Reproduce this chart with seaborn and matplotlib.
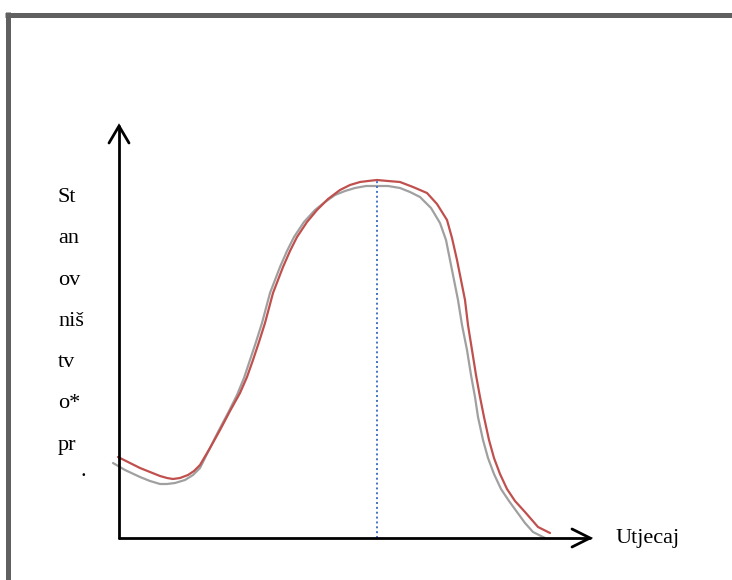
import numpy as np
import pandas as pd
import matplotlib.pyplot as plt
import seaborn as sns
from matplotlib.lines import Line2D

# curve values (x = distance from y axis, y = height above x axis, in px)
red_x = [-1, 11, 21, 31, 41, 48, 54, 61, 69, 75, 81, 91, 101, 111, 121, 128, 134, 140,
         146, 150, 154, 159, 164, 171, 178, 188, 198, 209, 221, 231, 241, 249, 258, 269,
         281, 294, 308, 318, 328, 333, 338, 342, 346, 349, 353, 357, 361, 365, 370, 375,
         381, 388, 396, 406, 419, 431]
red_y = [81, 75, 70, 66, 62, 60, 59, 60, 63, 67, 73, 90, 108, 127, 145, 161, 178, 196,
         215, 230, 245, 258, 271, 287, 301, 316, 328, 339, 348, 353, 356, 357, 358, 357,
         356, 351, 345, 334, 318, 300, 278, 258, 238, 213, 188, 163, 141, 121, 98, 80,
         64, 49, 37, 26, 11, 5]

gray_x = [-6, 6, 21, 31, 41, 48, 56, 66, 74, 81, 90, 99, 109, 118, 125, 131, 137, 143,
          147, 151, 156, 161, 168, 175, 185, 196, 206, 216, 226, 236, 247, 258, 269, 281,
          291, 301, 312, 321, 327, 331, 335, 339, 343, 348, 352, 356, 359, 364, 369, 375,
          382, 390, 398, 406, 414, 426]
gray_y = [75, 68, 61, 57, 54, 54, 55, 58, 63, 70, 88, 106, 125, 143, 160, 178, 196, 215,
          230, 245, 258, 271, 287, 301, 316, 328, 336, 343, 347, 350, 352, 352, 352, 350,
          346, 341, 330, 315, 298, 278, 258, 238, 213, 188, 163, 141, 121, 98, 80, 64,
          49, 37, 26, 15, 6, 0]

ylabel_lines = ['St', 'an', 'ov', 'niš', 'tv', 'o*', 'pr']
xlabel = 'Utjecaj'

sns.set_style('white')
plt.rcParams['font.family'] = ['Liberation Serif', 'DejaVu Serif']
plt.rcParams['text.color'] = 'black'

fig = plt.figure(figsize=(7.32, 5.80), dpi=100)
ax = fig.add_axes([0, 0, 1, 1])
ax.set_xlim(-119, 613)
ax.set_ylim(-42, 538)
ax.axis('off')

# gray frame (top and left edges)
fig.add_artist(Line2D([5 / 732, 1], [1 - 14.5 / 580] * 2, transform=fig.transFigure,
                      color='#606060', lw=3.6, solid_capstyle='butt'))
fig.add_artist(Line2D([8 / 732] * 2, [0, 1 - 12 / 580], transform=fig.transFigure,
                      color='#606060', lw=3.6, solid_capstyle='butt'))

# the two curves
df = pd.concat([
    pd.DataFrame({'x': gray_x, 'y': gray_y, 'curve': 'gray'}),
    pd.DataFrame({'x': red_x, 'y': red_y, 'curve': 'red'}),
])
sns.lineplot(data=df, x='x', y='y', hue='curve', units='curve',
             palette={'gray': '#A0A0A0', 'red': '#C0504D'},
             sort=False, estimator=None, lw=1.6, legend=False, ax=ax)

# dotted line at the peak of the red curve
peak = int(np.argmax(red_y))
ax.plot([red_x[peak], red_x[peak]], [0, red_y[peak]], color='#4472C4',
        ls=(0, (1, 1.5)), lw=1.4)

# axes with open arrow heads
ax.plot([0, 0], [0, 412], color='black', lw=2)
ax.plot([0, 471], [0, 0], color='black', lw=2)
ax.plot([-10, 0, 10], [395, 412, 395], color='black', lw=2, solid_joinstyle='miter')
ax.plot([453, 471, 453], [9, 0, -9], color='black', lw=2, solid_joinstyle='miter')

# broken-up y label
for i, s in enumerate(ylabel_lines):
    ax.text(-61, 336 - i * 41.3, s, fontsize=16, ha='left', va='baseline')
ax.text(-36, 62, '.', fontsize=16, ha='center', va='baseline')

ax.text(496, -5, xlabel, fontsize=16, ha='left', va='baseline')

fig.savefig('out.png', dpi=100)
